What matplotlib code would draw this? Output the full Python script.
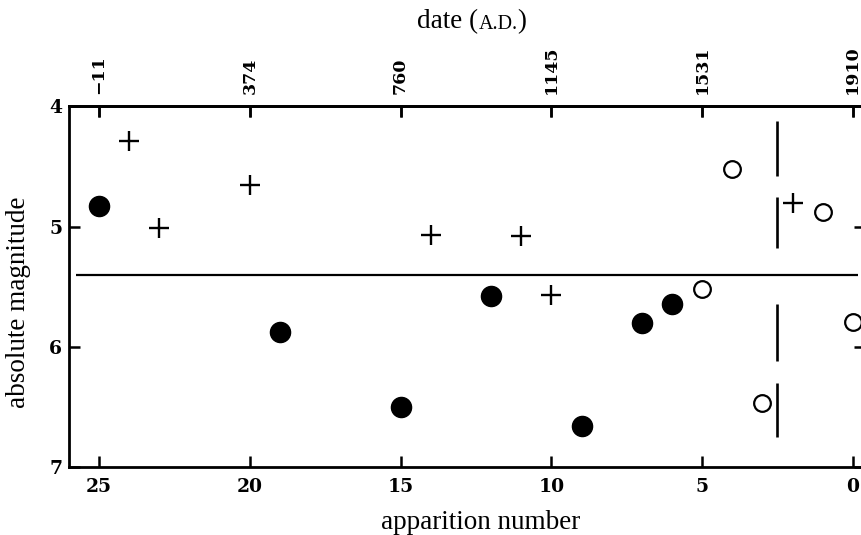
import matplotlib
matplotlib.use("Agg")
import matplotlib.pyplot as plt
from matplotlib.offsetbox import TextArea, HPacker, AnnotationBbox

# ---- data ----
filled_x = [25, 19, 15, 12, 9, 7, 6]
filled_y = [4.83, 5.88, 6.50, 5.58, 6.66, 5.80, 5.64]

plus_x = [24, 23, 20, 14, 11, 10, 2]
plus_y = [4.29, 5.01, 4.65, 5.07, 5.08, 5.57, 4.80]

open_x = [5, 4, 3, 1, 0]
open_y = [5.52, 4.52, 6.47, 4.88, 5.79]

bar_x = [2.5, 2.5, 2.5, 2.5]
bar_lo = [4.12, 4.75, 5.64, 6.30]
bar_hi = [4.58, 5.18, 6.12, 6.75]

mean_mag = 5.40
mean_x_range = [25.75, -0.17]

bottom_ticks = [25, 20, 15, 10, 5, 0]
bottom_labels = ["25", "20", "15", "10", "5", "0"]
top_labels = ["\u221211", "374", "760", "1145", "1531", "1910"]
y_ticks = [4, 5, 6, 7]
y_labels = ["4", "5", "6", "7"]

# ---- figure ----
fig = plt.figure(figsize=(8.62, 5.35), dpi=100)
ax = fig.add_axes([0.080, 0.127, 0.9234, 0.674])

ax.set_xlim(26, -0.4)
ax.set_ylim(7, 4)

ax.hlines(mean_mag, mean_x_range[0], mean_x_range[1], color="black", lw=1.6)
ax.vlines(bar_x, bar_lo, bar_hi, color="black", lw=1.9)

ax.plot(filled_x, filled_y, "o", ms=14.5, color="black", ls="none")
ax.plot(plus_x, plus_y, "+", ms=14, mew=1.7, color="black", ls="none")
ax.plot(open_x, open_y, "o", ms=12, mfc="white", mec="black", mew=1.6, ls="none")

for s in ax.spines.values():
    s.set_linewidth(2.0)

tick_font = dict(family="DejaVu Serif", weight="bold", size=13.5)
top_font = dict(family="DejaVu Serif", weight="bold", size=12.5)
ax.set_xticks(bottom_ticks)
ax.set_xticklabels(bottom_labels, fontdict=tick_font)
ax.set_yticks(y_ticks)
ax.set_yticklabels(y_labels, fontdict=tick_font)
ax.tick_params(axis="x", direction="in", length=8, width=1.8, pad=8, top=True)
ax.tick_params(axis="y", direction="in", length=8, width=1.8, pad=5, right=True)

sec = ax.secondary_xaxis("top")
sec.set_xticks(bottom_ticks)
sec.set_xticklabels(top_labels, fontdict=top_font, rotation=90)
sec.tick_params(direction="in", length=8, width=1.8, pad=9)
sec.spines["top"].set_linewidth(2.0)

label_font = dict(family="Liberation Serif", size=19.5)
ax.set_xlabel("apparition number", fontdict=label_font)
ax.xaxis.label.set_va("center")
ax.xaxis.set_label_coords((481 - 69) / 796, (467 - 522) / 360)
ax.set_ylabel("absolute magnitude", fontdict=label_font)
ax.yaxis.label.set_va("center")
ax.yaxis.label.set_ha("center")
ax.yaxis.set_label_coords((19 - 69) / 796, (467 - 302) / 360)

# top title "date (A.D.)" with small caps
t1 = TextArea("date (", textprops=dict(family="Liberation Serif", size=19.5))
t2 = TextArea("A.D.", textprops=dict(family="Liberation Serif", size=14.5))
t3 = TextArea(")", textprops=dict(family="Liberation Serif", size=19.5))
box = HPacker(children=[t1, t2, t3], align="baseline", pad=0, sep=0)
ab = AnnotationBbox(box, (472 / 862, 1 - 22 / 535), xycoords="figure fraction",
                    frameon=False, box_alignment=(0.5, 0.5))
fig.add_artist(ab)

fig.savefig("out.png", dpi=100)
